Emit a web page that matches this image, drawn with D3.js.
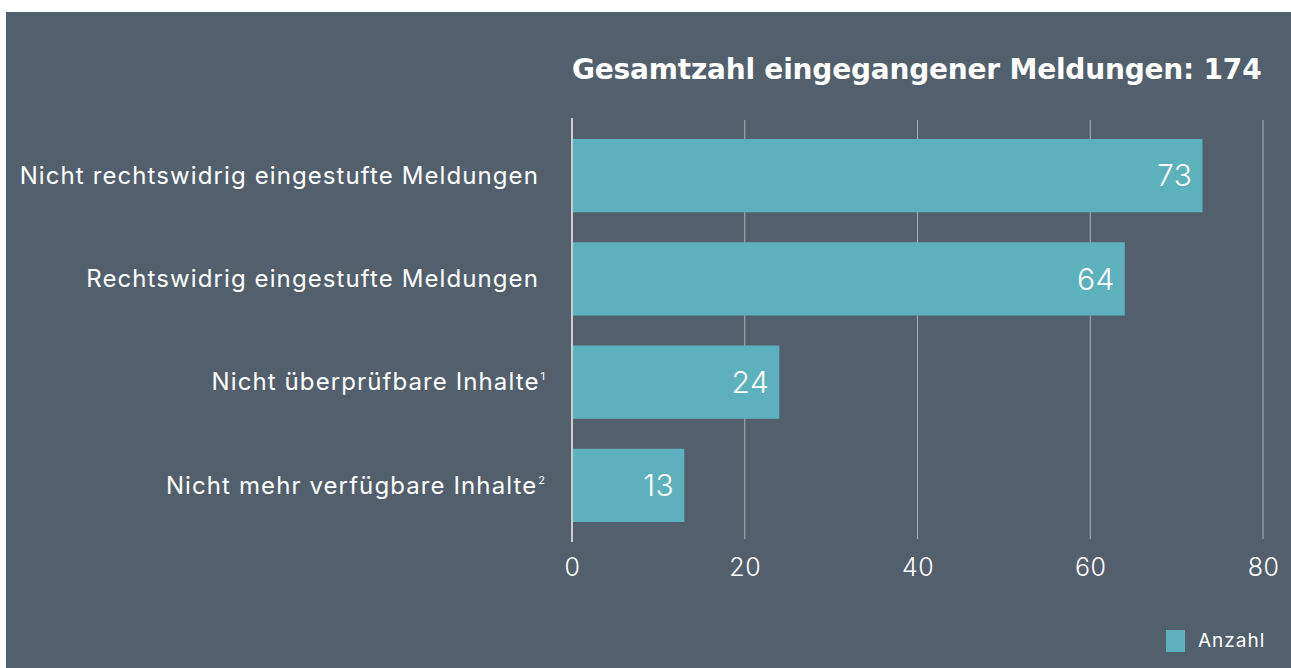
<!DOCTYPE html>
<html><head><meta charset="utf-8">
<script src="https://cdn.jsdelivr.net/npm/d3@7"></script>
<style>
html,body{margin:0;padding:0;background:#fff;}
svg{display:block;}
</style></head>
<body>
<svg id="chart" width="1291" height="668" font-family="Inter, 'Noto Sans', sans-serif"></svg>
<script>
const categories = ["Nicht rechtswidrig eingestufte Meldungen","Rechtswidrig eingestufte Meldungen","Nicht überprüfbare Inhalte","Nicht mehr verfügbare Inhalte"];
const superscripts = ["","","1","2"];
const values = [73,64,24,13];
const tickValues = [0,20,40,60,80];
const title = "Gesamtzahl eingegangener Meldungen: 174";
const seriesName = "Anzahl";

const svg = d3.select("#chart");
svg.append("rect").attr("x",6).attr("y",12).attr("width",1285).attr("height",656).attr("fill","#525f6d");

const x = d3.scaleLinear().domain([0,80]).range([572,1263]);
const y = d3.scaleBand().domain(categories).range([124,537]).paddingInner(0.29).paddingOuter(0.145);

// gridlines
svg.append("g").selectAll("line").data(tickValues.filter(d=>d>0)).join("line")
  .attr("x1",d=>x(d)).attr("x2",d=>x(d)).attr("y1",120).attr("y2",539)
  .attr("stroke","#a9b0b8").attr("stroke-width",1);

// bars
svg.append("g").selectAll("rect").data(values).join("rect")
  .attr("x",x(0)).attr("y",(d,i)=>y(categories[i]))
  .attr("width",d=>x(d)-x(0)).attr("height",y.bandwidth())
  .attr("fill","#5db1bc");

// zero line
svg.append("line").attr("x1",x(0)).attr("x2",x(0)).attr("y1",118).attr("y2",542)
  .attr("stroke","#c9cdd2").attr("stroke-width",2);

// value labels
svg.append("g").selectAll("text").data(values).join("text")
  .attr("x",d=>x(d)-10).attr("y",(d,i)=>y(categories[i])+y.bandwidth()/2)
  .attr("dy","0.36em").attr("text-anchor","end")
  .attr("fill","#fff").attr("font-size",30).attr("font-weight",300)
  .attr("letter-spacing",0.5)
  .text(d=>d);

// category labels
const cl = svg.append("g").selectAll("text").data(categories).join("text")
  .attr("x",(d,i)=> superscripts[i] ? 545 : 539)
  .attr("y",d=>y(d)+y.bandwidth()/2)
  .attr("dy","0.34em").attr("text-anchor","end")
  .attr("fill","#fff").attr("font-size",24).attr("font-weight",400)
  .attr("letter-spacing",1.1);
cl.append("tspan").text(d=>d);
cl.append("tspan").attr("font-size",11).attr("dy",-10).attr("dx",1).attr("letter-spacing",0).text((d,i)=>superscripts[i]);

// axis
const axis = d3.axisBottom(x).tickValues(tickValues).tickSize(0).tickPadding(0);
const ag = svg.append("g").attr("transform","translate(0,558)").call(axis);
ag.select(".domain").remove();
ag.selectAll("text").attr("fill","#fff").attr("font-size",25).attr("font-weight",300)
  .attr("font-family","Inter, 'Noto Sans', sans-serif").attr("dy","0.7em").attr("letter-spacing",0.5);

// title
svg.append("text").attr("x",572).attr("y",79).attr("fill","#fff")
  .attr("font-family","'DejaVu Sans', sans-serif")
  .attr("font-size",28).attr("font-weight",700).attr("letter-spacing",-0.2).text(title);

// legend
svg.append("rect").attr("x",1166).attr("y",630).attr("width",19).attr("height",22).attr("fill","#5db1bc");
svg.append("text").attr("x",1198).attr("y",647).attr("fill","#fff").attr("font-size",19)
  .attr("letter-spacing",1).text(seriesName);
</script>
</body></html>
